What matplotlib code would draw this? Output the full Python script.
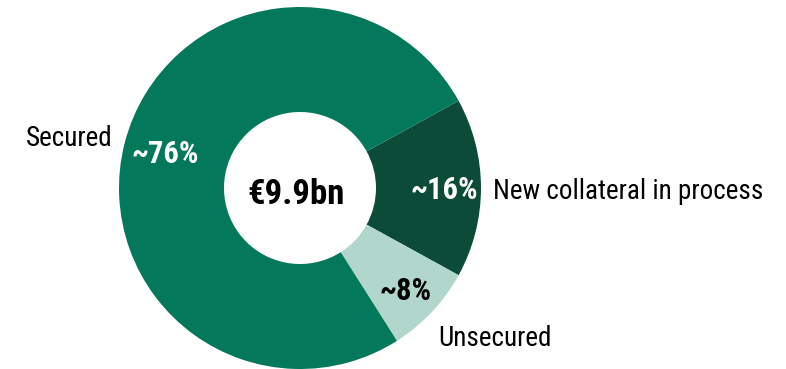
import matplotlib
matplotlib.use("Agg")
import matplotlib.pyplot as plt

# Data
categories = ["New collateral in process", "Unsecured", "Secured"]
shares = [16, 8, 76]
share_labels = ["~16%", "~8%", "~76%"]
total_label = "€9.9bn"

colors = ["#0b4b38", "#b1d7cc", "#03785a"]
pct_colors = ["white", "black", "white"]

plt.rcParams["font.family"] = ["Roboto Condensed", "DejaVu Sans"]

W, H = 786, 369
fig = plt.figure(figsize=(W / 100, H / 100), dpi=100)
ax = fig.add_axes([0, 0, 1, 1])

cx, cy = 300, H - 188
r_out, r_in = 181, 76

ax.pie(shares, colors=colors, startangle=360 * shares[0] / 100 / 2,
       counterclock=False, center=(cx, cy), radius=r_out, frame=True,
       wedgeprops=dict(width=r_out - r_in, linewidth=0))
ax.set_xlim(0, W)
ax.set_ylim(0, H)
ax.set_aspect("equal")
ax.axis("off")

# Percentage labels inside the ring (x, baseline y measured from top)
pct_pos = [(444, 199), (406, 300), (165, 163)]
for lab, col, (x, y) in zip(share_labels, pct_colors, pct_pos):
    ax.text(x, H - y, lab, ha="center", va="baseline", fontsize=22,
            fontweight="bold", color=col)

# Category labels outside the ring
cat_pos = [(493, 199, "left"), (438, 346, "left"), (113, 146, "right")]
for lab, (x, y, ha) in zip(categories, cat_pos):
    ax.text(x, H - y, lab, ha=ha, va="baseline", fontsize=19.5, color="black")

ax.text(296, H - 204, total_label, ha="center", va="baseline", fontsize=25,
        fontweight="bold", color="black")

fig.savefig("out.png", dpi=100)
